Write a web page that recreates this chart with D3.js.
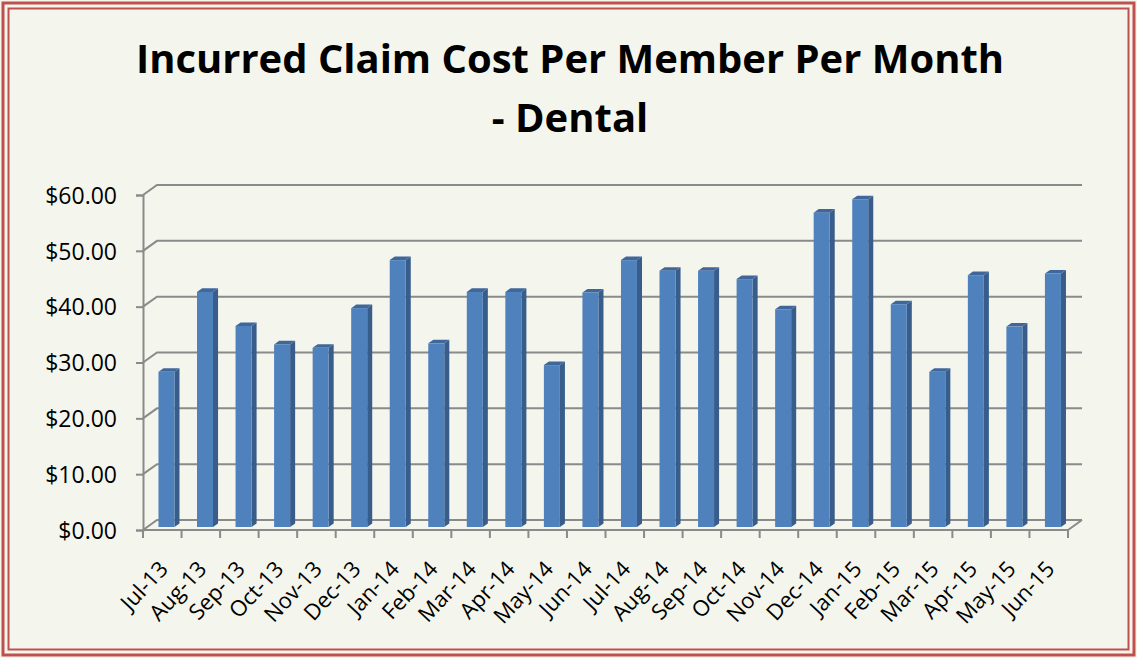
<!DOCTYPE html>
<meta charset="utf-8">
<script src="https://cdn.jsdelivr.net/npm/d3@7/dist/d3.min.js"></script>
<style>
  body { margin: 0; background: #fff; }
  text { font-family: "Open Sans", "DejaVu Sans", sans-serif; fill: #000; }
</style>
<svg width="1137" height="658"></svg>
<script>
// chart data
var months = ["Jul-13", "Aug-13", "Sep-13", "Oct-13", "Nov-13", "Dec-13",
  "Jan-14", "Feb-14", "Mar-14", "Apr-14", "May-14", "Jun-14",
  "Jul-14", "Aug-14", "Sep-14", "Oct-14", "Nov-14", "Dec-14",
  "Jan-15", "Feb-15", "Mar-15", "Apr-15", "May-15", "Jun-15"];
var pmpm = [27.8, 42.1, 36.0, 32.7, 32.1, 39.2,
  47.8, 32.9, 42.1, 42.1, 29.0, 42.0,
  47.8, 45.9, 45.9, 44.4, 39.0, 56.3,
  58.7, 39.9, 27.8, 45.1, 35.9, 45.4];
var yTicks = [0, 10, 20, 30, 40, 50, 60];
var titleLines = ["Incurred Claim Cost Per Member Per Month", "- Dental"];

var svg = d3.select("svg"),
  width = +svg.attr("width"),
  height = +svg.attr("height");

var red = "#c0504d", grid = "#8a8a8a";

// background + double border
svg.append("rect").attr("width", width).attr("height", height).attr("fill", "#f4f6ed");
svg.append("rect").attr("x", 3).attr("y", 3).attr("width", width - 6).attr("height", height - 6)
  .attr("fill", "none").attr("stroke", red).attr("stroke-width", 3);
svg.append("rect").attr("x", 8.5).attr("y", 8.5).attr("width", width - 17).attr("height", height - 17)
  .attr("fill", "none").attr("stroke", red).attr("stroke-width", 2);

// title
svg.selectAll(".title").data(titleLines).enter().append("text")
  .attr("class", "title")
  .attr("x", 570)
  .attr("y", function(d, i) { return 73 + i * 59; })
  .attr("text-anchor", "middle")
  .attr("font-size", 40)
  .attr("font-weight", "bold")
  .each(function(d, i) {
    if (i == 0) d3.select(this).attr("textLength", 868).attr("lengthAdjust", "spacingAndGlyphs");
  })
  .text(function(d) { return d; });

// plot geometry: front plane and depth offset
var plotLeft = 143, plotRight = 1068, plotBottom = 530, plotTop = 195;
var dx = 14, dy = -10;

var x = d3.scaleBand().domain(months).range([plotLeft, plotRight]);
var y = d3.scaleLinear().domain([0, 60]).range([plotBottom, plotTop]);

// back wall gridlines + side wall diagonals
var g = svg.append("g").attr("stroke", grid).attr("stroke-width", 2).attr("fill", "none");
g.selectAll(".gl").data(yTicks).enter().append("path")
  .attr("d", function(d) {
    return "M" + plotLeft + "," + y(d) + "L" + (plotLeft + dx) + "," + (y(d) + dy) +
      "L" + (plotRight + dx) + "," + (y(d) + dy);
  });
// floor front edge and right edge
g.append("path")
  .attr("d", "M" + plotLeft + "," + plotBottom + "L" + plotRight + "," + plotBottom +
    "L" + (plotRight + dx) + "," + (plotBottom + dy));

// y axis
svg.append("g")
  .attr("transform", "translate(" + plotLeft + ",0)")
  .call(d3.axisLeft(y).tickValues(yTicks).tickSize(7).tickPadding(19)
    .tickFormat(function(d) { return "$" + d3.format(".2f")(d); }))
  .call(function(a) {
    a.select(".domain").attr("stroke", grid).attr("stroke-width", 2);
    a.selectAll(".tick line").attr("stroke", grid).attr("stroke-width", 2);
    a.selectAll("text").attr("font-size", 23).attr("font-family", "Open Sans").attr("dy", "0.36em");
  });

// x axis ticks at category boundaries
var bounds = months.map(function(m) { return x(m); }).concat([plotRight]);
svg.append("g").attr("stroke", grid).attr("stroke-width", 2)
  .selectAll("line").data(bounds).enter().append("line")
  .attr("x1", function(d) { return d; }).attr("x2", function(d) { return d; })
  .attr("y1", plotBottom).attr("y2", plotBottom + 8);

// x labels
svg.append("g").selectAll("text").data(months).enter().append("text")
  .attr("font-size", 22)
  .attr("text-anchor", "end")
  .attr("transform", function(d) {
    return "translate(" + (x(d) + x.bandwidth() / 2 + 7) + "," + (plotBottom + 40) + ") rotate(-47)";
  })
  .text(function(d) { return d; });

// 3D bars
var bw = 16, t0 = 0.3, t1 = 0.66;
var fx = dx * t0, fy = dy * t0, sx = dx * (t1 - t0), sy = dy * (t1 - t0);
var bars = svg.append("g").selectAll("g").data(months).enter().append("g");
function bx(i) { return x(months[i]) + x.bandwidth() / 2 - bw / 2 + fx; }
bars.append("path") // side
  .attr("fill", "#385d8a")
  .attr("d", function(d, i) {
    var x0 = bx(i) + bw, yt = y(pmpm[i]) + fy, yb = y(0) + fy;
    return "M" + x0 + "," + yb + "L" + x0 + "," + yt + "L" + (x0 + sx) + "," + (yt + sy) +
      "L" + (x0 + sx) + "," + (yb + sy) + "Z";
  });
bars.append("path") // top
  .attr("fill", "#3f6799")
  .attr("d", function(d, i) {
    var x0 = bx(i), yt = y(pmpm[i]) + fy;
    return "M" + x0 + "," + yt + "L" + (x0 + sx) + "," + (yt + sy) + "L" + (x0 + bw + sx) + "," + (yt + sy) +
      "L" + (x0 + bw) + "," + yt + "Z";
  });
bars.append("rect") // front
  .attr("fill", "#4f81bd")
  .attr("x", function(d, i) { return bx(i); })
  .attr("y", function(d, i) { return y(pmpm[i]) + fy; })
  .attr("width", bw)
  .attr("height", function(d, i) { return y(0) - y(pmpm[i]); });
</script>
